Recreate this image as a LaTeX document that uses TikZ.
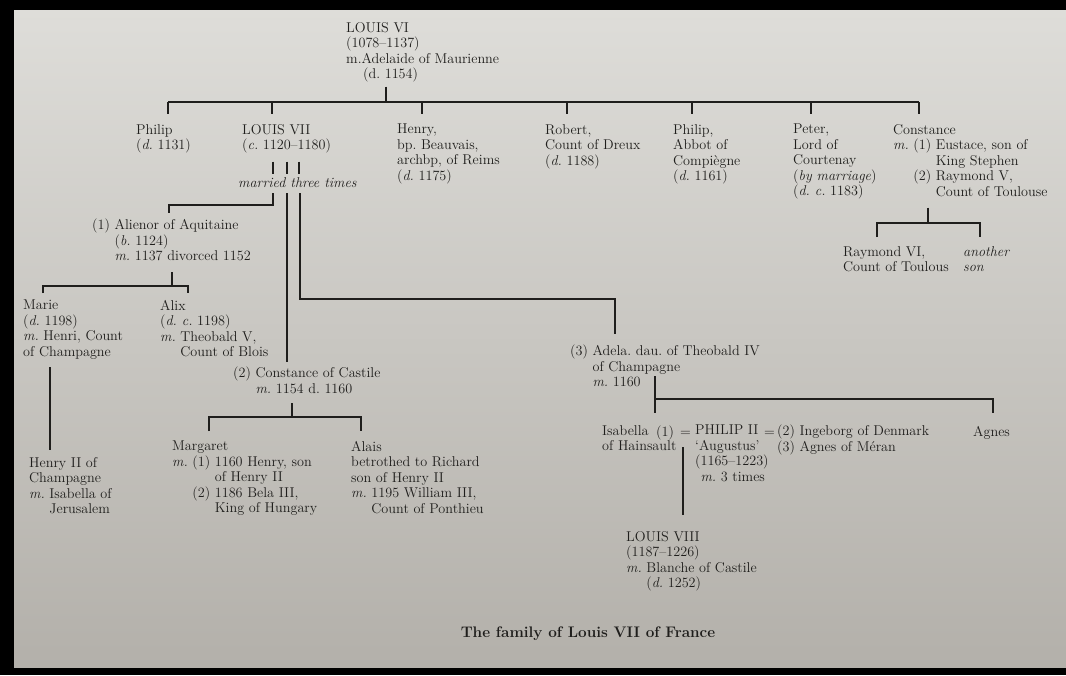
\documentclass[tikz,border=0pt]{standalone}
\usepackage{tikz}
\usetikzlibrary{calc}
\definecolor{TreeInk}{HTML}{1F1E1C}
\definecolor{PageTop}{HTML}{DEDDD9}
\definecolor{PageLow}{HTML}{B3B0AA}
\newcommand\treefont{\fontsize{14.2}{15.5}\selectfont}
\frenchspacing

\begin{document}
\begin{tikzpicture}[x=1pt,y=-1pt,
  person/.style={anchor=north west,inner sep=0pt,align=left,text=TreeInk,font=\treefont,
    execute at begin node=\strut,execute at end node=\strut},
  kin/.style={draw=TreeInk,line width=1.4pt}]
  \useasboundingbox (0,0) rectangle (1066,675);
  % photo frame and page
  \fill[black] (0,0) rectangle (1066,675);
  \shade[top color=PageTop,bottom color=PageLow] (14,10) rectangle (1066,667);

  % Louis VI and his children
  \node[person] (louisvi) at (346,22) {LOUIS VI\\(1078–1137)\\m.Adelaide of Maurienne\\\hspace*{17pt}(d. 1154)};
  \node[person] (philip) at (136,124) {Philip\\(\textit{d.}~1131)};
  \node[person] (louisvii) at (242,124) {LOUIS VII\\(\textit{c.}~1120–1180)};
  \node[person] (henry) at (397,124) {Henry,\\bp. Beauvais,\\archbp, of Reims\\(\textit{d.}~1175)};
  \node[person] (robert) at (545,124) {Robert,\\Count of Dreux\\(\textit{d.}~1188)};
  \node[person] (philipabbot) at (673,124) {Philip,\\Abbot of\\Compiègne\\(\textit{d.}~1161)};
  \node[person] (peter) at (793,124) {Peter,\\Lord of\\Courtenay\\(\textit{by marriage})\\(\textit{d. c.}~1183)};
  \node[person] (constance) at (893,124) {Constance\\\textit{m.}~(1) Eustace, son of\\\phantom{\textit{m.}~(1) }King Stephen\\\phantom{\textit{m.}~}(2) Raymond V,\\\phantom{\textit{m.}~(2) }Count of Toulouse};

  \draw[kin,shorten <=3pt] (386,0 |- louisvi.south) -- (386,102);
  \draw[kin] (168,102) -- (919,102);
  \foreach \n/\x in {philip/168,louisvii/272,henry/422,robert/567,philipabbot/692,peter/811,constance/919}
    \draw[kin,shorten >=10pt] (\x,102) -- (\x,0 |- \n.north);

  % Constance's sons
  \node[person] (raymondvi) at (843,246) {Raymond VI,\\Count of Toulous};
  \node[person] (anotherson) at (963,246) {\textit{another}\\\textit{son}};
  \draw[kin,shorten <=6.5pt] (928,0 |- constance.south) -- (928,223);
  \draw[kin,shorten <=9pt,shorten >=9pt] (raymondvi.north -| 877,0) |- (980,223) -- (980,0 |- anotherson.north);

  % the three marriages of Louis VII
  \node[person] (married) at (238,176) {\textit{married three times}};
  \foreach \x in {273,287,299}
    \draw[kin,shorten <=7pt,shorten >=2pt] (\x,0 |- louisvii.south) -- (\x,0 |- married.north);

  \node[person] (alienor) at (92,219) {(1) Alienor of Aquitaine\\\phantom{(1) }(\textit{b.}~1124)\\\phantom{(1) }\textit{m.}~1137 divorced 1152};
  \node[person] (constancec) at (233,367) {(2) Constance of Castile\\\phantom{(2) }\textit{m.}~1154 d. 1160};
  \node[person] (adela) at (570,345) {(3) Adela. dau. of Theobald IV\\\phantom{(3) }of Champagne\\\phantom{(3) }\textit{m.}~1160};

  \coordinate (wifeone) at (169,205);
  \coordinate (wifethree) at (615,299);
  \draw[kin,shorten <=1.5pt,shorten >=6pt] (273,0 |- married.south) |- (wifeone) -- (wifeone |- alienor.north);
  \draw[kin,shorten <=1.5pt,shorten >=5pt] (287,0 |- married.south) -- (287,0 |- constancec.north);
  \draw[kin,shorten <=1.5pt,shorten >=11pt] (300,0 |- married.south) |- (wifethree) -- (wifethree |- adela.north);

  % children of Alienor
  \node[person] (marie) at (23,300) {Marie\\(\textit{d.}~1198)\\\textit{m.}~Henri, Count\\of Champagne};
  \node[person] (alix) at (160,300) {Alix\\(\textit{d. c.}~1198)\\\textit{m.}~Theobald V,\\\phantom{\textit{m.}~}Count of Blois};
  \node[person] (henryii) at (29,457) {Henry II of\\Champagne\\\textit{m.}~Isabella of\\\phantom{\textit{m.}~}Jerusalem};
  \draw[kin,shorten <=6.5pt] (172,0 |- alienor.south) -- (172,286);
  \draw[kin,shorten <=7pt,shorten >=7pt] (marie.north -| 43,0) |- (188,286) -- (188,0 |- alix.north);
  \draw[kin,shorten <=6pt,shorten >=7pt] (50,0 |- marie.south) -- (50,0 |- henryii.north);

  % children of Constance of Castile
  \node[person] (margaret) at (172,441) {Margaret\\\textit{m.}~(1) 1160 Henry, son\\\phantom{\textit{m.}~(1) }of Henry II\\\phantom{\textit{m.}~}(2) 1186 Bela III,\\\phantom{\textit{m.}~(2) }King of Hungary};
  \node[person] (alais) at (351,441) {Alais\\betrothed to Richard\\son of Henry II\\\textit{m.}~1195 William III,\\\phantom{\textit{m.}~}Count of Ponthieu};
  \draw[kin,shorten <=5pt] (292,0 |- constancec.south) -- (292,417);
  \draw[kin,shorten <=10pt,shorten >=10pt] (margaret.north -| 209,0) |- (361,417) -- (361,0 |- alais.north);

  % children of Adela
  \node[person] (isabella) at (602,425) {Isabella\\of Hainsault};
  \node[person] (isaone) at (656,425) {(1)};
  \node[person] (eqone) at (680,425) {=};
  \node[person] (philipii) at (695,425) {PHILIP II\\‘Augustus’\\(1165–1223)\\\phantom{(}\textit{m.}~3 times};
  \node[person] (eqtwo) at (764,425) {=};
  \node[person] (laterwives) at (777,425) {(2) Ingeborg of Denmark\\(3) Agnes of Méran};
  \node[person] (agnes) at (973,425) {Agnes};
  \coordinate (adelaline) at (655,376);
  \draw[kin,shorten >=12pt] (adelaline) -- (adelaline |- isaone.north);
  \draw[kin,shorten >=12pt] (adelaline |- 0,399) -| (993,0 |- agnes.north);

  % son of Philip II
  \node[person] (louisviii) at (626,531) {LOUIS VIII\\(1187–1226)\\\textit{m.}~Blanche of Castile\\\phantom{\textit{m.}~}(\textit{d.}~1252)};
  \coordinate (augline) at (683,447);
  \draw[kin,shorten >=16pt] (augline) -- (augline |- louisviii.north);

  \node[anchor=base,inner sep=0pt,text=TreeInk,font=\fontsize{15.3}{17}\selectfont\bfseries] (caption) at (588,637) {The family of Louis VII of France};
\end{tikzpicture}
\end{document}
